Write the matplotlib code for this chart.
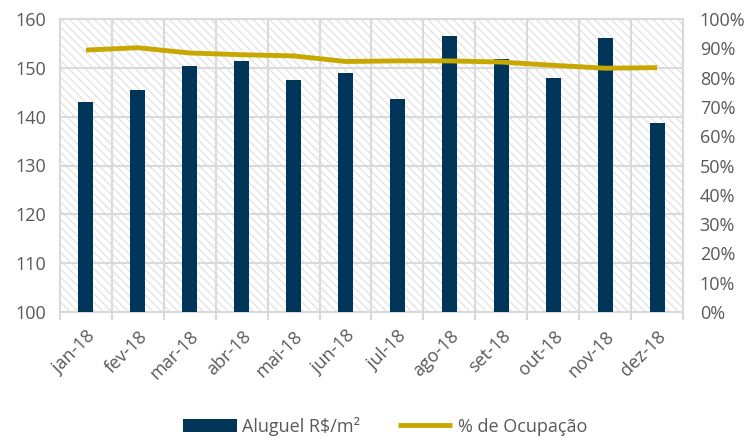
import matplotlib.pyplot as plt
from matplotlib.patches import Rectangle
from matplotlib.ticker import FixedLocator, PercentFormatter

# data
meses = ['jan-18', 'fev-18', 'mar-18', 'abr-18', 'mai-18', 'jun-18',
         'jul-18', 'ago-18', 'set-18', 'out-18', 'nov-18', 'dez-18']
aluguel = [143.1, 145.5, 150.4, 151.4, 147.5, 148.9, 143.6, 156.5, 151.8, 148.0, 156.2, 138.8]
ocupacao = [89.4, 90.2, 88.4, 87.8, 87.4, 85.5, 85.7, 85.7, 85.3, 84.2, 83.2, 83.4]

azul = '#00355a'
ouro = '#c8a800'
cinza = '#595959'
grade = '#d9d9d9'

plt.rcParams['font.family'] = ['Open Sans', 'DejaVu Sans']
plt.rcParams['hatch.linewidth'] = 1.0

fig = plt.figure(figsize=(7.52, 4.36), dpi=100)
ax = fig.add_axes([60 / 752, 1 - 312 / 436, 623 / 752, 293 / 436])
x = list(range(len(meses)))

# fundo hachurado
ax.add_patch(Rectangle((0, 0), 1, 1, transform=ax.transAxes, facecolor='white',
                       edgecolor='#e4e4e4', linewidth=0, hatch='\\\\\\\\', zorder=0))

ax.bar(x, aluguel, width=0.29, color=azul, zorder=3, label='Aluguel R$/m²')
ax.set_ylim(100, 160)
ax.set_xlim(-0.5, len(meses) - 0.5)
ax.set_yticks(range(100, 161, 10))

ax.set_xticks(x)
ax.set_xticklabels(meses, rotation=45, ha='right', rotation_mode='anchor')
ax.xaxis.set_minor_locator(FixedLocator([i - 0.5 for i in range(len(meses) + 1)]))
ax.tick_params(axis='x', which='major', length=0, pad=11)
ax.tick_params(axis='x', which='minor', length=6, color=grade, width=1.5)
ax.tick_params(axis='y', length=0, pad=10)
ax.tick_params(colors=cinza, labelsize=13)
ax.grid(axis='y', color=grade, linewidth=1.5, zorder=1)
ax.grid(axis='x', which='minor', color=grade, linewidth=1.5, zorder=1)
ax.set_axisbelow(True)
for s in ax.spines.values():
    s.set_color(grade)
    s.set_linewidth(1.5)

ax2 = ax.twinx()
ax2.plot(x, ocupacao, color=ouro, linewidth=3.5, label='% de Ocupação',
         solid_capstyle='butt', zorder=4)
ax2.set_ylim(0, 100)
ax2.set_yticks(range(0, 101, 10))
ax2.yaxis.set_major_formatter(PercentFormatter(decimals=0))
ax2.tick_params(axis='y', length=0, pad=12, colors=cinza, labelsize=13)
for s in ax2.spines.values():
    s.set_visible(False)

h1, l1 = ax.get_legend_handles_labels()
h2, l2 = ax2.get_legend_handles_labels()
leg = fig.legend(h1 + h2, l1 + l2, loc='center', bbox_to_anchor=(0.512, 1 - 426 / 436),
                 ncol=2, frameon=False, fontsize=13, handlelength=3.0,
                 handleheight=0.7, handletextpad=0.3, columnspacing=2.1)
for t in leg.get_texts():
    t.set_color(cinza)

fig.savefig('out.png', dpi=100)
